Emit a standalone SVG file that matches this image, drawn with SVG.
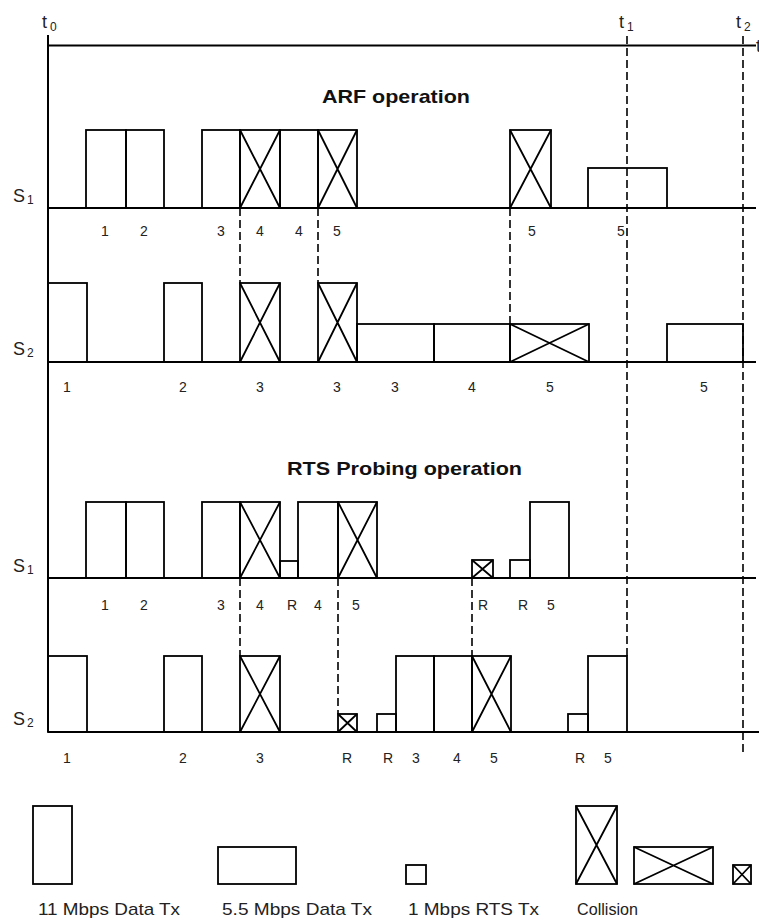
<svg xmlns="http://www.w3.org/2000/svg" width="759" height="920" viewBox="0 0 759 920">
<style>
.ax{stroke:#000;stroke-width:2;fill:none}
.bx{stroke:#000;stroke-width:1.8;fill:none}
.cx{stroke:#000;stroke-width:1.8;fill:none}
.ds{stroke:#000;stroke-width:1.6;fill:none;stroke-dasharray:8,4}
.n{font-family:"Liberation Sans",Arial,sans-serif;font-size:14px;text-anchor:middle;fill:#222}
.lab{font-family:"Liberation Sans",Arial,sans-serif;font-size:18px;fill:#222}
.sub{font-family:"Liberation Sans",Arial,sans-serif;font-size:12px;fill:#222}
.ttl{font-family:"Liberation Sans",Arial,sans-serif;font-size:19px;font-weight:bold;fill:#111}
.leg{font-family:"Liberation Sans",Arial,sans-serif;font-size:17px;fill:#222}
</style>
<rect x="0" y="0" width="759" height="920" fill="#fff"/>

<g id="axes">
<line class="ax" x1="48" y1="35" x2="48" y2="732"/>
<line class="ax" x1="48" y1="45.5" x2="756" y2="45.5"/>
<line class="ax" x1="48" y1="208" x2="756" y2="208"/>
<line class="ax" x1="48" y1="362" x2="756" y2="362"/>
<line class="ax" x1="48" y1="578" x2="756" y2="578"/>
<line class="ax" x1="48" y1="732" x2="759" y2="732"/>
</g>

<g id="time-labels">
<text class="lab" x="42" y="28">t</text><text class="sub" x="50" y="31">0</text>
<text class="lab" x="619" y="28">t</text><text class="sub" x="627" y="31">1</text>
<text class="lab" x="736" y="28">t</text><text class="sub" x="744" y="31">2</text>
<text class="lab" x="756" y="52">t</text>
</g>

<g id="titles">
<text class="ttl" x="322" y="103" textLength="148" lengthAdjust="spacingAndGlyphs">ARF operation</text>
<text class="ttl" x="287" y="475" textLength="235" lengthAdjust="spacingAndGlyphs">RTS Probing operation</text>
</g>

<g id="station-labels">
<text class="lab" x="13" y="202">S</text><text class="sub" x="27" y="204">1</text>
<text class="lab" x="13" y="355">S</text><text class="sub" x="27" y="357">2</text>
<text class="lab" x="13" y="572">S</text><text class="sub" x="27" y="574">1</text>
<text class="lab" x="13" y="725">S</text><text class="sub" x="27" y="727">2</text>
</g>

<g id="connectors">
<line class="ds" x1="240" y1="208" x2="240" y2="283"/>
<line class="ds" x1="318" y1="208" x2="318" y2="283"/>
<line class="ds" x1="510" y1="208" x2="510" y2="324"/>
<line class="ds" x1="627" y1="36" x2="627" y2="656"/>
<line class="ds" x1="743" y1="36" x2="743" y2="754"/>
<line class="ds" x1="240" y1="578" x2="240" y2="656"/>
<line class="ds" x1="338" y1="578" x2="338" y2="714"/>
<line class="ds" x1="472" y1="578" x2="472" y2="656"/>
</g>

<g id="arf-s1">
<g id="arf-s1-1"><rect class="bx" x="86" y="130" width="40" height="78"/></g>
<g id="arf-s1-2"><rect class="bx" x="126" y="130" width="38" height="78"/></g>
<g id="arf-s1-3"><rect class="bx" x="202" y="130" width="38" height="78"/></g>
<g id="arf-s1-4c"><rect class="bx" x="240" y="130" width="40" height="78"/><path class="cx" d="M240 130L280 208M280 130L240 208"/></g>
<g id="arf-s1-4"><rect class="bx" x="280" y="130" width="38" height="78"/></g>
<g id="arf-s1-5c"><rect class="bx" x="318" y="130" width="39" height="78"/><path class="cx" d="M318 130L357 208M357 130L318 208"/></g>
<g id="arf-s1-5c2"><rect class="bx" x="510" y="130" width="41" height="78"/><path class="cx" d="M510 130L551 208M551 130L510 208"/></g>
<g id="arf-s1-5"><rect class="bx" x="588" y="168" width="79" height="40"/></g>
<text class="n" x="105" y="236">1</text><text class="n" x="144" y="236">2</text><text class="n" x="221" y="236">3</text>
<text class="n" x="260" y="236">4</text><text class="n" x="299" y="236">4</text><text class="n" x="337" y="236">5</text>
<text class="n" x="532" y="236">5</text><text class="n" x="621" y="236">5</text>
</g>

<g id="arf-s2">
<g id="arf-s2-1"><rect class="bx" x="48" y="283" width="39" height="79"/></g>
<g id="arf-s2-2"><rect class="bx" x="164" y="283" width="38" height="79"/></g>
<g id="arf-s2-3c"><rect class="bx" x="240" y="283" width="40" height="79"/><path class="cx" d="M240 283L280 362M280 283L240 362"/></g>
<g id="arf-s2-3c2"><rect class="bx" x="318" y="283" width="39" height="79"/><path class="cx" d="M318 283L357 362M357 283L318 362"/></g>
<g id="arf-s2-3"><rect class="bx" x="357" y="324" width="77" height="38"/></g>
<g id="arf-s2-4"><rect class="bx" x="434" y="324" width="76" height="38"/></g>
<g id="arf-s2-5c"><rect class="bx" x="510" y="324" width="79" height="38"/><path class="cx" d="M510 324L589 362M589 324L510 362"/></g>
<g id="arf-s2-5"><rect class="bx" x="667" y="324" width="76" height="38"/></g>
<text class="n" x="67" y="392">1</text><text class="n" x="183" y="392">2</text><text class="n" x="260" y="392">3</text>
<text class="n" x="337" y="392">3</text><text class="n" x="395" y="392">3</text><text class="n" x="472" y="392">4</text>
<text class="n" x="550" y="392">5</text><text class="n" x="704" y="392">5</text>
</g>

<g id="rts-s1">
<g id="rts-s1-1"><rect class="bx" x="86" y="502" width="40" height="76"/></g>
<g id="rts-s1-2"><rect class="bx" x="126" y="502" width="38" height="76"/></g>
<g id="rts-s1-3"><rect class="bx" x="202" y="502" width="38" height="76"/></g>
<g id="rts-s1-4c"><rect class="bx" x="240" y="502" width="40" height="76"/><path class="cx" d="M240 502L280 578M280 502L240 578"/></g>
<g id="rts-s1-r1"><rect class="bx" x="280" y="561" width="18" height="17"/></g>
<g id="rts-s1-4"><rect class="bx" x="298" y="502" width="40" height="76"/></g>
<g id="rts-s1-5c"><rect class="bx" x="338" y="502" width="39" height="76"/><path class="cx" d="M338 502L377 578M377 502L338 578"/></g>
<g id="rts-s1-rc"><rect class="bx" x="472" y="560" width="21" height="18"/><path class="cx" d="M472 560L493 578M493 560L472 578"/></g>
<g id="rts-s1-r2"><rect class="bx" x="510" y="560" width="20" height="18"/></g>
<g id="rts-s1-5"><rect class="bx" x="530" y="502" width="39" height="76"/></g>
<text class="n" x="105" y="610">1</text><text class="n" x="144" y="610">2</text><text class="n" x="221" y="610">3</text>
<text class="n" x="260" y="610">4</text><text class="n" x="292" y="610">R</text><text class="n" x="318" y="610">4</text>
<text class="n" x="356" y="610">5</text><text class="n" x="483" y="610">R</text><text class="n" x="523" y="610">R</text>
<text class="n" x="551" y="610">5</text>
</g>

<g id="rts-s2">
<g id="rts-s2-1"><rect class="bx" x="48" y="656" width="39" height="76"/></g>
<g id="rts-s2-2"><rect class="bx" x="164" y="656" width="38" height="76"/></g>
<g id="rts-s2-3c"><rect class="bx" x="240" y="656" width="40" height="76"/><path class="cx" d="M240 656L280 732M280 656L240 732"/></g>
<g id="rts-s2-rc"><rect class="bx" x="338" y="714" width="19" height="18"/><path class="cx" d="M338 714L357 732M357 714L338 732"/></g>
<g id="rts-s2-r1"><rect class="bx" x="377" y="714" width="19" height="18"/></g>
<g id="rts-s2-3"><rect class="bx" x="396" y="656" width="38" height="76"/></g>
<g id="rts-s2-4"><rect class="bx" x="434" y="656" width="38" height="76"/></g>
<g id="rts-s2-5c"><rect class="bx" x="472" y="656" width="39" height="76"/><path class="cx" d="M472 656L511 732M511 656L472 732"/></g>
<g id="rts-s2-r2"><rect class="bx" x="568" y="714" width="20" height="18"/></g>
<g id="rts-s2-5"><rect class="bx" x="588" y="656" width="39" height="76"/></g>
<text class="n" x="67" y="763">1</text><text class="n" x="183" y="763">2</text><text class="n" x="260" y="763">3</text>
<text class="n" x="347" y="763">R</text><text class="n" x="388" y="763">R</text><text class="n" x="416" y="763">3</text>
<text class="n" x="457" y="763">4</text><text class="n" x="494" y="763">5</text><text class="n" x="580" y="763">R</text>
<text class="n" x="608" y="763">5</text>
</g>

<g id="legend">
<g id="leg-11"><rect class="bx" x="33" y="806" width="39" height="78"/>
<text class="leg" x="38" y="915" textLength="142" lengthAdjust="spacingAndGlyphs">11 Mbps Data Tx</text></g>
<g id="leg-55"><rect class="bx" x="218" y="847" width="78" height="37"/>
<text class="leg" x="222" y="915" textLength="150" lengthAdjust="spacingAndGlyphs">5.5 Mbps Data Tx</text></g>
<g id="leg-rts"><rect class="bx" x="406" y="865" width="20" height="19"/>
<text class="leg" x="408" y="915" textLength="131" lengthAdjust="spacingAndGlyphs">1 Mbps RTS Tx</text></g>
<g id="leg-col"><rect class="bx" x="576" y="806" width="41" height="78"/><path class="cx" d="M576 806L617 884M617 806L576 884"/>
<rect class="bx" x="634" y="847" width="79" height="37"/><path class="cx" d="M634 847L713 884M713 847L634 884"/>
<rect class="bx" x="733" y="865" width="18" height="19"/><path class="cx" d="M733 865L751 884M751 865L733 884"/>
<text class="leg" x="577" y="915" textLength="61" lengthAdjust="spacingAndGlyphs">Collision</text></g>
</g>
</svg>
